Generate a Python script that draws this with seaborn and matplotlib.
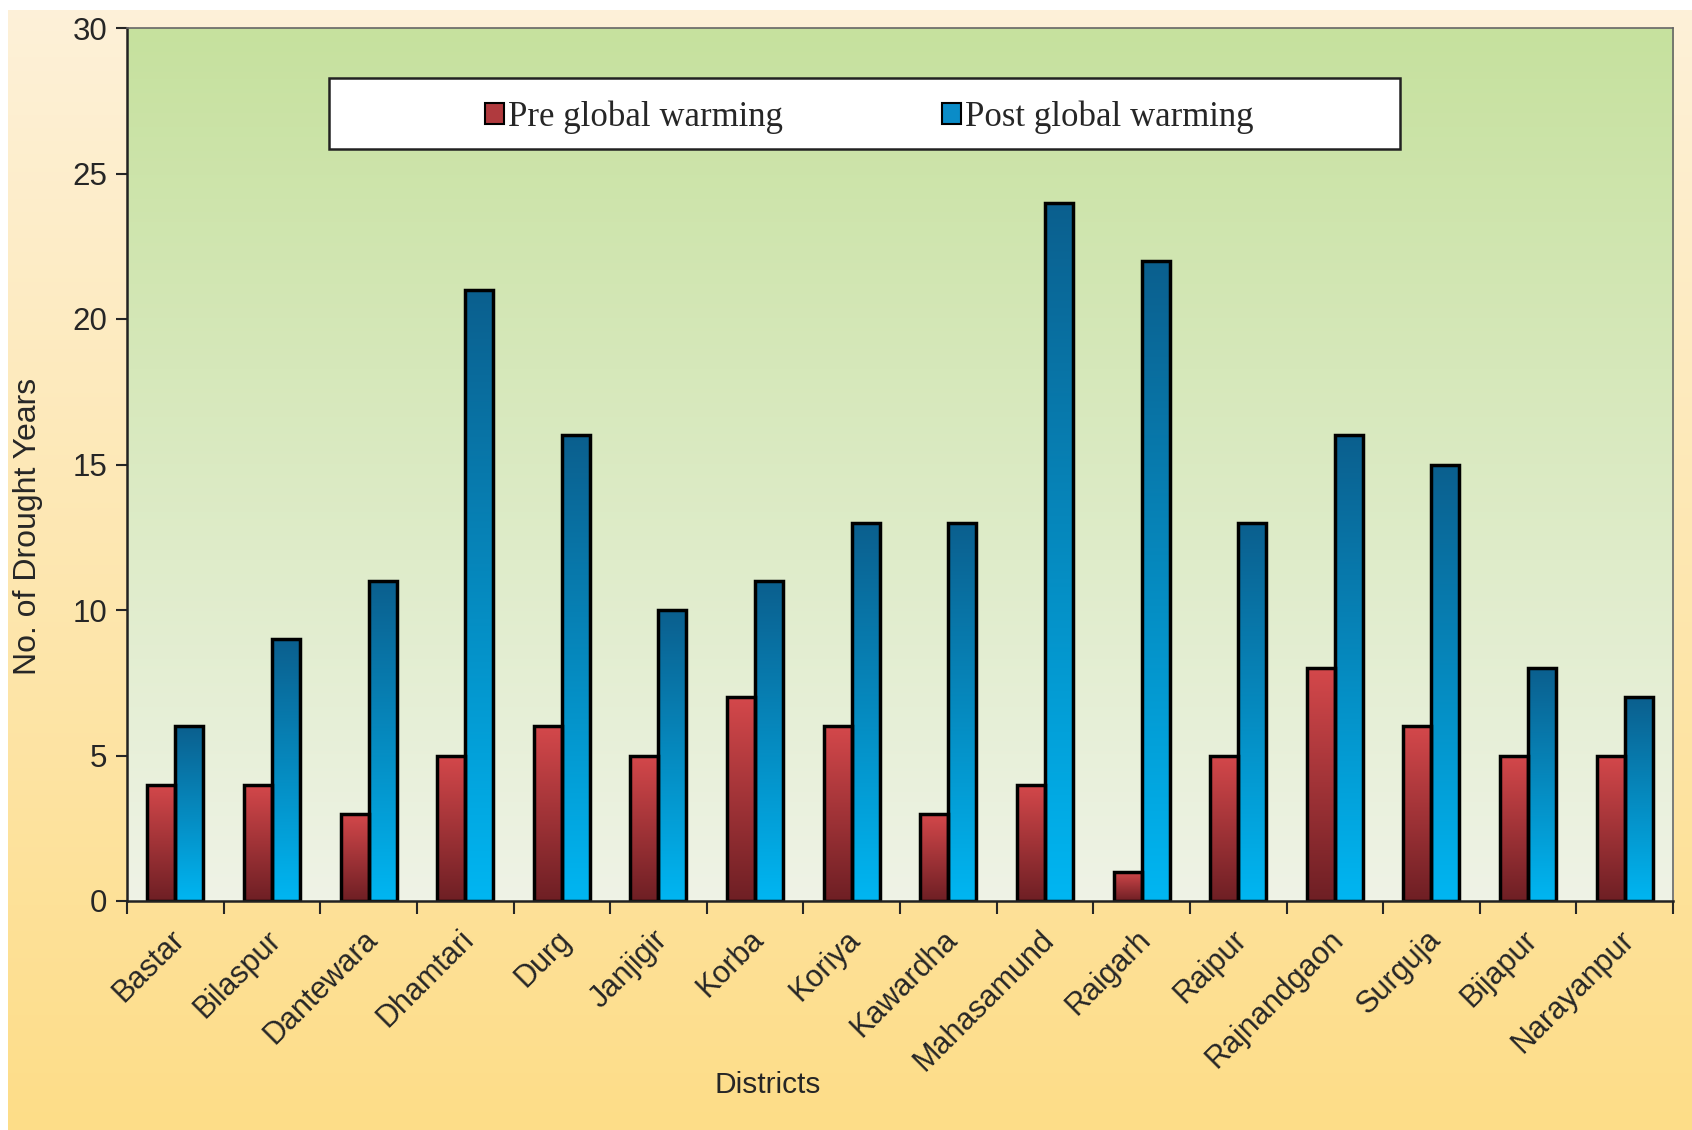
import numpy as np
import pandas as pd
import matplotlib
matplotlib.use("Agg")
import matplotlib.pyplot as plt
import matplotlib.transforms as mtransforms
import seaborn as sns
from matplotlib.colors import LinearSegmentedColormap, to_hex
from matplotlib.patches import Rectangle, Patch

# Number of drought years per district
districts = ["Bastar", "Bilaspur", "Dantewara", "Dhamtari", "Durg", "Janjigir",
             "Korba", "Koriya", "Kawardha", "Mahasamund", "Raigarh", "Raipur",
             "Rajnandgaon", "Surguja", "Bijapur", "Narayanpur"]
pre_warming = [4, 4, 3, 5, 6, 5, 7, 6, 3, 4, 1, 5, 8, 6, 5, 5]
post_warming = [6, 9, 11, 21, 16, 10, 11, 13, 13, 24, 22, 13, 16, 15, 8, 7]
series_names = ["Pre global warming", "Post global warming"]
y_ticks = [0, 5, 10, 15, 20, 25, 30]

df = pd.DataFrame({
    "District": districts * 2,
    "Years": pre_warming + post_warming,
    "Period": [series_names[0]] * len(districts) + [series_names[1]] * len(districts),
})

sns.set_style("ticks")
plt.rcParams["font.family"] = ["Liberation Sans", "DejaVu Sans"]

# bar gradients (bottom colour, top colour)
red_cmap = LinearSegmentedColormap.from_list("red", ["#6E1F24", "#D4484B"])
blue_cmap = LinearSegmentedColormap.from_list("blue", ["#00B6F2", "#0B5F8E"])
base_red, base_blue = "#B03A3E", "#0A8CC8"

fig = plt.figure(figsize=(16.92, 11.30), dpi=100)

# page background: cream to warm yellow
bg = fig.add_axes([0, 0, 1, 1], zorder=-10)
grad = np.linspace(0, 1, 256).reshape(-1, 1)
bg.imshow(grad, aspect="auto", extent=[0, 1, 0, 1], origin="upper",
          cmap=LinearSegmentedColormap.from_list("bg", ["#FDF1D9", "#FDDD88"]))
bg.add_patch(Rectangle((0, 0), 8 / 1692, 1, color="white", lw=0))
bg.add_patch(Rectangle((0, 1 - 10 / 1130), 1, 10 / 1130, color="white", lw=0))
bg.set_xlim(0, 1)
bg.set_ylim(0, 1)
bg.axis("off")

ax = fig.add_axes([127 / 1692, 1 - 901 / 1130, 1546 / 1692, 873 / 1130])
sns.barplot(data=df, x="District", y="Years", hue="Period",
            palette=[base_red, base_blue], width=0.58, saturation=1,
            edgecolor="black", linewidth=2.5, legend=False, ax=ax)

# plot area background: green fading to pale
ax.set_facecolor("none")
ax.imshow(grad, aspect="auto", extent=[0, 1, 0, 1], origin="upper",
          transform=ax.transAxes, zorder=0,
          cmap=LinearSegmentedColormap.from_list("plot", ["#C6E19E", "#EFF3E6"]))

# vertical gradient inside each bar
for bar in list(ax.patches):
    h = bar.get_height()
    if h <= 0:
        continue
    is_red = to_hex(bar.get_facecolor()).lower() == base_red.lower()
    cmap = red_cmap if is_red else blue_cmap
    x0, w = bar.get_x(), bar.get_width()
    im = ax.imshow(grad, aspect="auto", extent=[x0, x0 + w, 0, h], origin="lower",
                   cmap=cmap, zorder=1.5)
    im.set_clip_path(bar)
    bar.set_facecolor("none")
    bar.set_zorder(2)

ax.set_xlim(-0.5, len(districts) - 0.5)
ax.set_ylim(0, 30)
ax.set_yticks(y_ticks)
ax.set_xlabel("")
ax.set_ylabel("")

ax.tick_params(axis="y", labelsize=22.5, length=8, width=1.5, direction="out", pad=6)
ax.tick_params(axis="x", which="major", length=0, labelsize=22, pad=17)
ax.set_xticks(np.arange(-0.5, len(districts)), minor=True)
ax.tick_params(axis="x", which="minor", length=9, width=1.5, direction="out")
ax.set_xticklabels(districts, rotation=45, ha="right", va="top", rotation_mode="anchor")
shift = mtransforms.ScaledTranslation(-6 / 100, 0, fig.dpi_scale_trans)
for lbl in ax.get_xticklabels():
    lbl.set_transform(lbl.get_transform() + shift)

for side in ["left", "bottom"]:
    ax.spines[side].set_color("#222222")
    ax.spines[side].set_linewidth(1.8)
for side in ["top", "right"]:
    ax.spines[side].set_visible(True)
    ax.spines[side].set_color("#666666")
    ax.spines[side].set_linewidth(1.2)

# legend box with centered entries
ax.add_patch(Rectangle((0.1307, 0.8614), 0.6927, 0.0813, transform=ax.transAxes,
                       facecolor="white", edgecolor="#222222", lw=1.8, zorder=5))
handles = [Patch(facecolor=base_red, edgecolor="black", lw=1.5, label=series_names[0]),
           Patch(facecolor=base_blue, edgecolor="black", lw=1.5, label=series_names[1])]
leg = ax.legend(handles=handles, loc="center", ncol=2, frameon=False,
                bbox_to_anchor=(0.1307 + 0.6927 / 2 + 0.003, 0.8614 + 0.0813 / 2 - 0.004),
                prop={"family": "Liberation Serif", "size": 25},
                handlelength=0.55, handleheight=0.55, handletextpad=0.1,
                columnspacing=4.6)
leg.set_zorder(6)

fig.text(28 / 1692, 1 - 526 / 1130, "No. of Drought Years", rotation=90,
         ha="center", va="center", fontsize=23)
fig.text(768 / 1692, 1 - 1085 / 1130, "Districts", ha="center", va="center",
         fontsize=21.5)

fig.savefig("out.png", dpi=100)
